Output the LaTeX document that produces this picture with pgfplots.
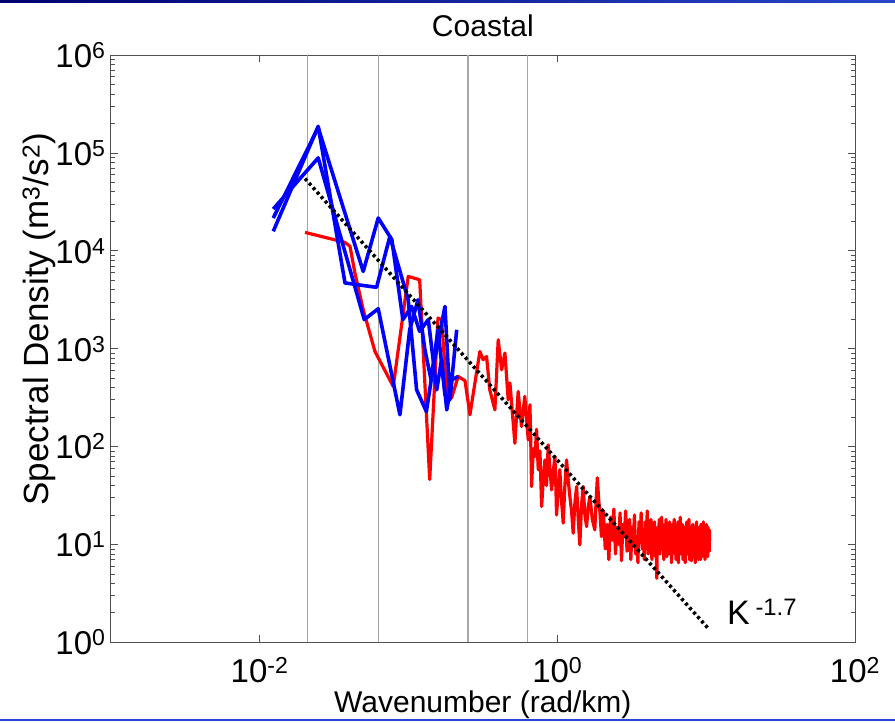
\documentclass[border=0pt]{standalone}
\usepackage{pgfplots}
\pgfplotsset{compat=1.18}
\usepackage{fontspec}
\setmainfont{Liberation Sans}
\definecolor{topL}{RGB}{0,0,110}
\definecolor{topR}{RGB}{40,70,200}
\definecolor{botline}{RGB}{40,70,210}
\definecolor{refgray}{RGB}{165,165,165}
\definecolor{axgray}{RGB}{80,80,80}
\begin{document}
\begin{tikzpicture}[font=\fontsize{30bp}{36bp}\selectfont]
\path[use as bounding box] (-110.7bp,-80.7bp) rectangle (784.3bp,642.3bp);
\shade[left color=topL, right color=topR] (-110.7bp,639.3bp) rectangle (784.3bp,642.3bp);
\fill[botline] (-110.7bp,-79bp) rectangle (784.3bp,-77bp);
\begin{loglogaxis}[
  at={(0,0)}, anchor=south west,
  scale only axis, width=744.3bp, height=587.3bp,
  xmin=1e-3, xmax=1e2, ymin=1, ymax=1e6,
  xtick={1e-2,1,1e2},
  xticklabels={10\textsuperscript{-2},10\textsuperscript{0},10\textsuperscript{2}},
  ytick={1,10,100,1000,1e4,1e5,1e6},
  yticklabels={10\textsuperscript{0},10\textsuperscript{1},10\textsuperscript{2},10\textsuperscript{3},10\textsuperscript{4},10\textsuperscript{5},10\textsuperscript{6}},
  xminorticks=false,
  tick pos=both, ticklabel pos=left,
  axis line style={axgray, line width=0.8bp},
  every tick/.style={axgray, line width=0.7bp},
  major tick length=7bp, minor tick length=4bp,
  tick label style={font=\fontsize{33bp}{40bp}\selectfont},
  xticklabel style={anchor=base, yshift=-40bp, inner sep=0pt},
  yticklabel style={anchor=east, xshift=-5bp, inner sep=0pt},
  title={Coastal},
  title style={at={(0.5,1)}, anchor=base, yshift=13bp, inner sep=0pt},
  xlabel={Wavenumber (rad/km)},
  xlabel style={at={(0.5,0)}, anchor=base, yshift=-70bp, inner sep=0pt},
  ylabel={Spectral Density (m\textsuperscript{3}/s\textsuperscript{2})},
  ylabel style={at={(-0.096,0.55)}, anchor=center, inner sep=0pt, font=\fontsize{35bp}{42bp}\selectfont},
  clip=false,
]
% reference wavelengths 300, 100, 25, 10 km
\addplot[refgray, line width=1.1bp] coordinates {(0.0209,1) (0.0209,1e6)};
\addplot[refgray, line width=1.1bp] coordinates {(0.0628,1) (0.0628,1e6)};
\addplot[refgray, line width=1.1bp] coordinates {(0.2513,1) (0.2513,1e6)};
\addplot[refgray, line width=1.1bp] coordinates {(0.6283,1) (0.6283,1e6)};
% red spectrum
\addplot[red, line width=3.2bp, line join=round] coordinates {
(0.0202,15400) (0.0374,12200) (0.0405,11100) (0.0437,5930) (0.0497,2500)
(0.0596,936) (0.0791,411) (0.0997,5470) (0.119,5060) (0.139,46)
(0.158,2055) (0.167,1977) (0.181,352) (0.195,315) (0.216,520)
(0.240,470) (0.259,211) (0.302,936) (0.318,771) (0.335,832)
(0.352,380) (0.381,237) (0.401,1233) (0.423,608) (0.445,902)
(0.468,300) (0.481,445) (0.519,108) (0.546,365) (0.575,160)
(0.605,325) (0.638,117) (0.655,267) (0.663,120) (0.672,39) (0.690,95)
(0.708,79) (0.726,150) (0.745,58) (0.765,90) (0.785,24.4) (0.805,45)
(0.826,73) (0.847,40) (0.869,104) (0.892,60) (0.916,36) (0.940,55)
(0.964,79) (0.976,45) (0.989,20) (1.014,35) (1.04,58) (1.068,28)
(1.096,16.5) (1.125,40) (1.154,73) (1.185,45) (1.215,30.8) (1.247,22)
(1.279,13) (1.314,27) (1.349,39) (1.383,18) (1.418,9.9) (1.455,25)
(1.493,39) (1.533,20) (1.574,15.2) (1.614,24) (1.655,30.8) (1.72,18)
(1.787,14.1) (1.82,26) (1.858,48) (1.90,28) (1.934,21.5)
(1.98,12) (2.04,22) (2.10,9) (2.16,16) (2.22,7) (2.28,19) (2.34,11) (2.40,23)
(2.46,8) (2.52,15) (2.58,10) (2.64,21) (2.70,6.8) (2.76,16) (2.82,12) (2.88,22)
(2.94,8.5) (3.00,13) (3.06,18) (3.12,7) (3.18,15) (3.24,10) (3.30,20) (3.36,8)
(3.42,12) (3.48,6.5) (3.54,17) (3.60,11) (3.66,21) (3.72,9) (3.78,14) (3.84,7)
(3.90,17) (3.96,10) (4.02,22) (4.08,8) (4.14,13) (4.20,9.5) (4.26,18) (4.32,7)
(4.38,14) (4.44,11) (4.50,17) (4.56,7.5) (4.62,12) (4.66,4.5) (4.72,15) (4.78,10)
(4.84,18) (4.90,8) (4.96,13) (5.02,19) (5.08,9) (5.14,14) (5.20,7) (5.26,16)
(5.32,10) (5.38,18) (5.44,7.5) (5.50,12) (5.56,15) (5.62,8) (5.68,17) (5.74,10)
(5.80,13) (5.86,6.5) (5.92,16) (5.98,9) (6.04,14) (6.10,18) (6.16,8) (6.22,12)
(6.28,7) (6.34,15) (6.40,10) (6.46,17) (6.52,6.5) (6.58,13) (6.64,9) (6.70,19)
(6.76,8) (6.82,14) (6.88,11) (6.94,16) (7.00,7) (7.06,12) (7.12,9) (7.18,15)
(7.24,6.5) (7.30,13) (7.36,10) (7.42,17) (7.48,8) (7.54,14) (7.60,11) (7.66,18)
(7.72,7) (7.78,12) (7.84,9) (7.90,15) (7.96,6.8) (8.02,13) (8.08,10) (8.14,16)
(8.20,7.5) (8.26,12) (8.32,9) (8.38,15) (8.44,6.5) (8.50,13) (8.56,10) (8.62,17)
(8.68,8) (8.74,12) (8.80,14) (8.86,7) (8.92,11) (8.98,15) (9.04,8.5) (9.10,13)
(9.16,7) (9.22,16) (9.28,10) (9.34,12) (9.40,7.5) (9.46,14) (9.52,9) (9.58,17)
(9.64,8) (9.70,12) (9.76,15) (9.82,7) (9.88,11) (9.94,14) (10.00,8) (10.06,16)
(10.12,9) (10.18,13) (10.24,7.5) (10.30,15) (10.36,10) (10.42,13) (10.48,8.5) (10.54,14)
(10.56,11)
};
% blue spectra
\addplot[blue, line width=3.6bp, line join=round] coordinates {
(0.01236,15800) (0.02477,187000) (0.0375,4690) (0.0611,4230) (0.0751,14000)
(0.0997,3160) (0.1135,380) (0.132,228) (0.147,658) (0.176,2700)
(0.190,300) (0.211,1560)
};
\addplot[blue, line width=3.6bp, line join=round] coordinates {
(0.01236,21600) (0.02477,181500) (0.0497,6150) (0.0627,21600) (0.0774,13000)
(0.0918,1980) (0.105,2700) (0.119,1500) (0.136,1980) (0.155,380)
(0.167,771) (0.181,237) (0.196,481) (0.216,520)
};
\addplot[blue, line width=3.6bp, line join=round] coordinates {
(0.01236,26700) (0.02477,88900) (0.0505,1980) (0.0627,2560) (0.0877,211)
(0.102,1560) (0.116,3160) (0.129,975) (0.142,481) (0.158,1560)
(0.176,338) (0.195,315)
};
% power law K^-1.7
\addplot[black, line width=3.5bp, dash pattern=on 3bp off 3bp] coordinates {(0.0202,54600) (10.4,1.37)};
\node[anchor=west, inner sep=0pt, font=\fontsize{34bp}{40bp}\selectfont] at (axis cs:13.8,2.04) {K\,\textsuperscript{-1.7}};
\end{loglogaxis}
\end{tikzpicture}
\end{document}
